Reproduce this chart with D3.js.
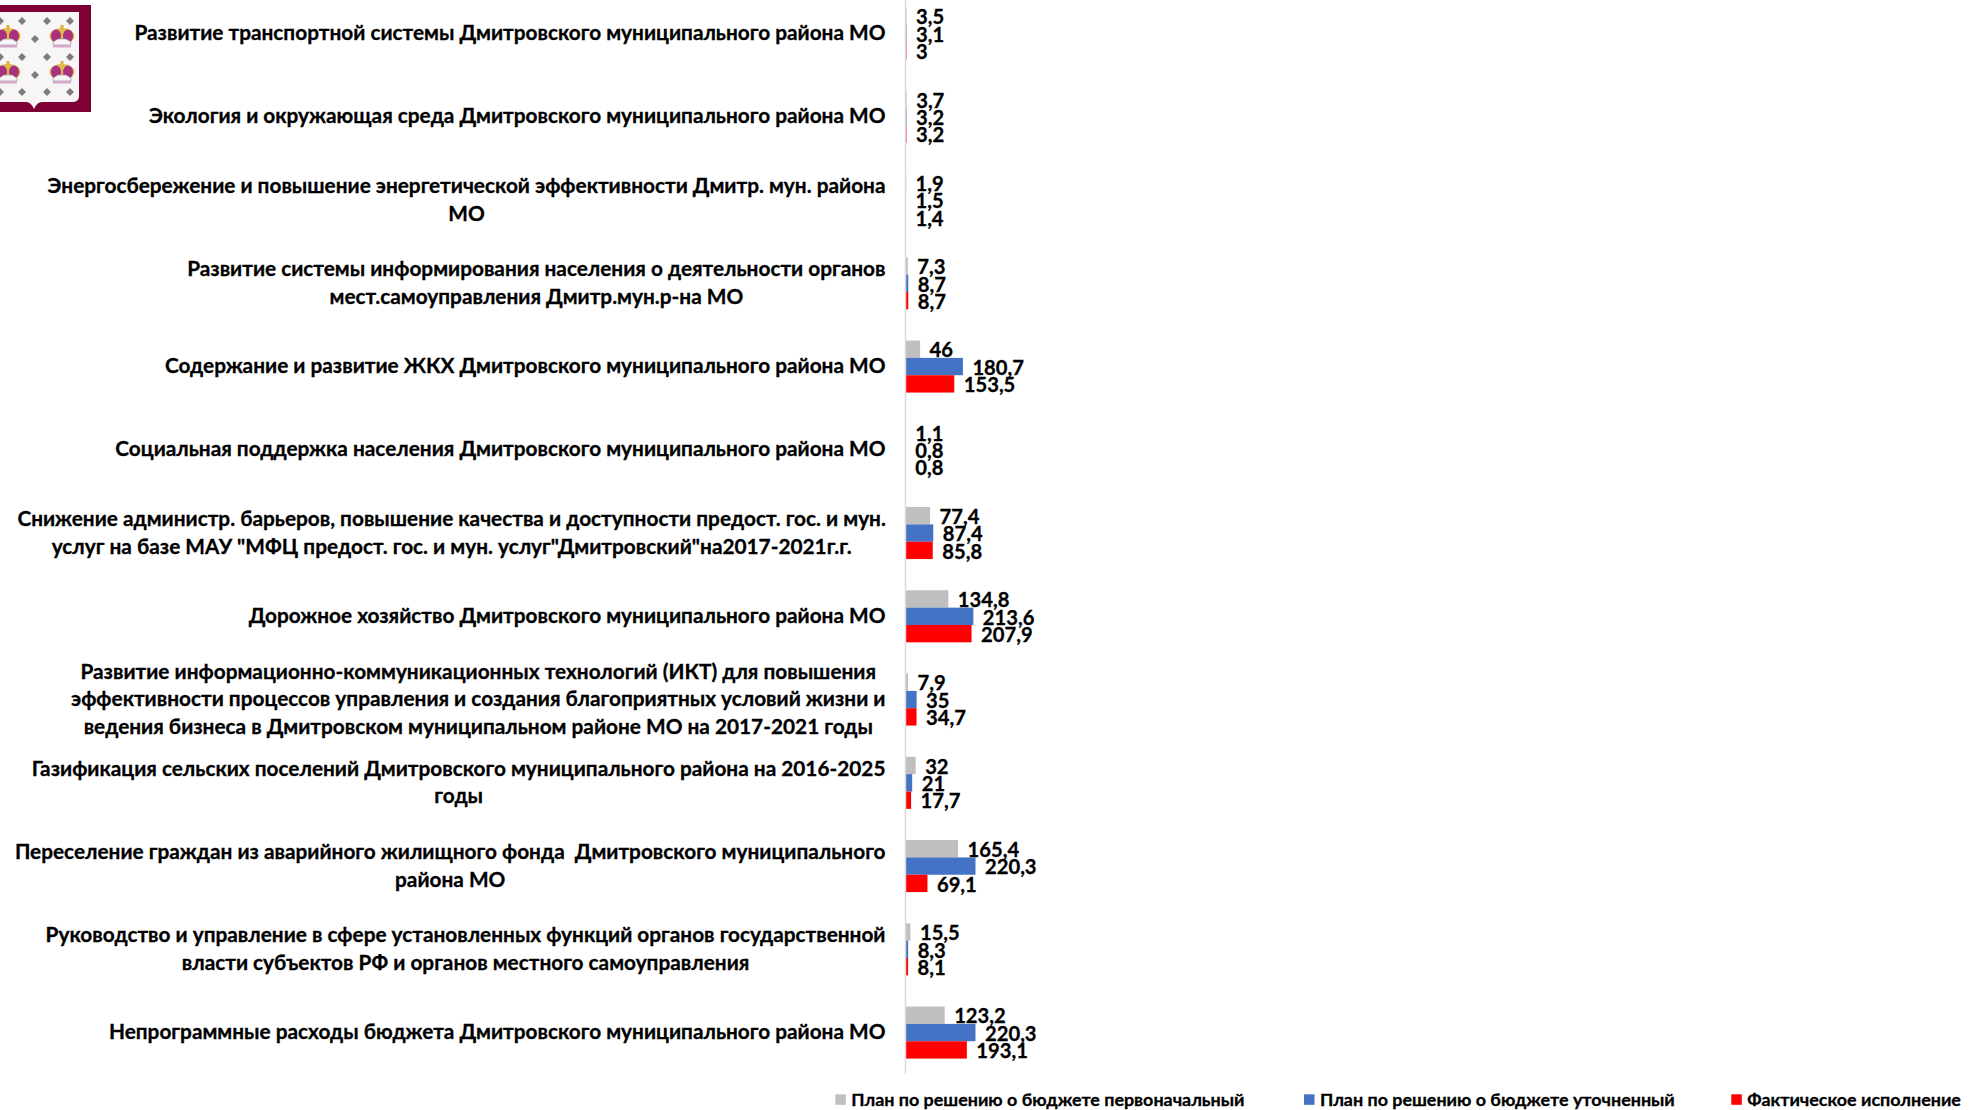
<!DOCTYPE html>
<html lang="ru"><head><meta charset="utf-8">
<script src="https://cdn.jsdelivr.net/npm/d3@7"></script>
<style>
html,body{margin:0;padding:0;background:#fff}
svg{display:block}
text{font-family:Lato,"Open Sans","Noto Sans",sans-serif;font-weight:700;fill:#000;white-space:pre;stroke:#000;stroke-width:0.3px}
</style></head><body>
<script>
const categories = [
"Развитие транспортной системы Дмитровского муниципального района МО",
"Экология и окружающая среда Дмитровского муниципального района МО",
"Энергосбережение и повышение энергетической эффективности Дмитр. мун. района\nМО",
"Развитие системы информирования населения о деятельности органов\nмест.самоуправления Дмитр.мун.р-на МО",
"Содержание и развитие ЖКХ Дмитровского муниципального района МО",
"Социальная поддержка населения Дмитровского муниципального района МО",
"Снижение администр. барьеров, повышение качества и доступности предост. гос. и мун.\nуслуг на базе МАУ \"МФЦ предост. гос. и мун. услуг\"Дмитровский\"на2017-2021г.г.",
"Дорожное хозяйство Дмитровского муниципального района МО",
"Развитие информационно-коммуникационных технологий (ИКТ) для повышения\nэффективности процессов управления и создания благоприятных условий жизни и\nведения бизнеса в Дмитровском муниципальном районе МО на 2017-2021 годы",
"Газификация сельских поселений Дмитровского муниципального района на 2016-2025\nгоды",
"Переселение граждан из аварийного жилищного фонда  Дмитровского муниципального\nрайона МО",
"Руководство и управление в сфере установленных функций органов государственной\nвласти субъектов РФ и органов местного самоуправления",
"Непрограммные расходы бюджета Дмитровского муниципального района МО"
];
const seriesNames = ["План по решению о бюджете первоначальный","План по решению о бюджете уточненный","Фактическое исполнение"];
const seriesColors = ["#BFBFBF","#4472C4","#FF0000"];
const planInitial = [3.5,3.7,1.9,7.3,46,1.1,77.4,134.8,7.9,32,165.4,15.5,123.2];
const planUpdated = [3.1,3.2,1.5,8.7,180.7,0.8,87.4,213.6,35,21,220.3,8.3,220.3];
const actual      = [3,3.2,1.4,8.7,153.5,0.8,85.8,207.9,34.7,17.7,69.1,8.1,193.1];
const seriesValues = [planInitial,planUpdated,actual];

const W=1974,H=1110;
const svg=d3.select("body").append("svg").attr("width",W).attr("height",H).attr("viewBox",[0,0,W,H]);

const x=d3.scaleLinear().domain([0,220.3]).range([905.5,975.5]);
const y=d3.scaleBand().domain(categories).range([-8.1,1074.2]).paddingInner(0.375).paddingOuter(0.1875);
const yInner=d3.scaleBand().domain(d3.range(3)).range([0,y.bandwidth()]);
const fmt=v=>String(v).replace(".",",");

// bars + value labels
seriesValues.forEach((vals,si)=>{
  const g=svg.append("g");
  g.selectAll("rect").data(vals).join("rect")
    .attr("x",x(0)).attr("y",(d,i)=>y(categories[i])+yInner(si))
    .attr("width",d=>x(d)-x(0)).attr("height",yInner.bandwidth())
    .attr("fill",seriesColors[si]);
  g.selectAll("text").data(vals).join("text")
    .attr("x",d=>x(d)+9.5).attr("y",(d,i)=>y(categories[i])+yInner(si)+yInner.bandwidth()/2+1.2)
    .attr("dy","0.35em").attr("font-size",20.2).text(fmt);
});

// category axis
const axis=svg.append("g").attr("transform",`translate(${x(0)},0)`)
  .call(d3.axisLeft(y).tickSize(0).tickPadding(0).tickFormat(""));
axis.select(".domain").attr("stroke","#D9D9D9").attr("stroke-width",1.5).attr("d","M0,0V1074");
axis.selectAll(".tick text").each(function(d){
  const t=d3.select(this).attr("x",null).attr("dy",null).attr("font-size",20.8).attr("text-anchor","middle");
  const lines=d.split("\n");
  const spans=lines.map((l,i)=>t.append("tspan").attr("dy",i?27.6:(-(lines.length-1)*13.8)).text(l));
  const widest=d3.max(spans,s=>s.node().getComputedTextLength());
  const cx=885.5-x(0)-widest/2;
  spans.forEach(s=>s.attr("x",cx));
  t.attr("y",6.7).attr("dy",null);
});

// legend
const legendX=[835.3,1304,1731.3], legendTextX=[851.3,1320,1747.3];
seriesNames.forEach((n,i)=>{
  svg.append("rect").attr("x",legendX[i]).attr("y",1094.3).attr("width",10.5).attr("height",10.5).attr("fill",seriesColors[i]);
  svg.append("text").attr("x",legendTextX[i]).attr("y",1099.5).attr("dy","0.35em").attr("font-size",17.9).text(n);
});

// crest
const crest=svg.append("g");
const defs=svg.append("defs");
defs.append("filter").attr("id","soft").append("feGaussianBlur").attr("stdDeviation",0.7);
crest.append("rect").attr("x",0).attr("y",5).attr("width",91).attr("height",107).attr("fill","#7E0035");
const inner=crest.append("g").attr("filter","url(#soft)");
inner.append("path").attr("d","M-2,12H79V96Q79,102 72,102H42Q37,102 34,109Q31,102 26,102H-2Z").attr("fill","#F7F5F6");
[[0,21],[22,21],[47,21],[70,21],[35,39],[0,57],[22,57],[47,57],[70,57],[35,75],[0,92],[22,92],[47,92],[70,92]].forEach(([a,b])=>{
  inner.append("path").attr("d",`M${a-4},${b}L${a},${b-4}L${a+4},${b}L${a},${b+4}Z`).attr("fill","#7d7d7d");
});
[[8,37],[62,37],[8,73],[62,73]].forEach(([a,b])=>{
  const c=inner.append("g").attr("transform",`translate(${a},${b})`);
  c.append("rect").attr("x",-1.5).attr("y",-12).attr("width",3).attr("height",6).attr("fill","#D6B13E");
  c.append("ellipse").attr("cx",0).attr("cy",-1).attr("rx",12.5).attr("ry",8).attr("fill","#E2B84A");
  c.append("ellipse").attr("cx",-6).attr("cy",-1).attr("rx",5).attr("ry",6.5).attr("fill","#A8327F");
  c.append("ellipse").attr("cx",6).attr("cy",-1).attr("rx",5).attr("ry",6.5).attr("fill","#A8327F");
  c.append("path").attr("d","M-9,8V5L-4,2H4L9,5V8Z").attr("fill","#F7F5F6").attr("stroke","#9a9a9a").attr("stroke-width",0.7);
  c.append("rect").attr("x",-9).attr("y",8).attr("width",18).attr("height",2.5).attr("fill","#D8A6CC");
});
</script>
</body></html>
